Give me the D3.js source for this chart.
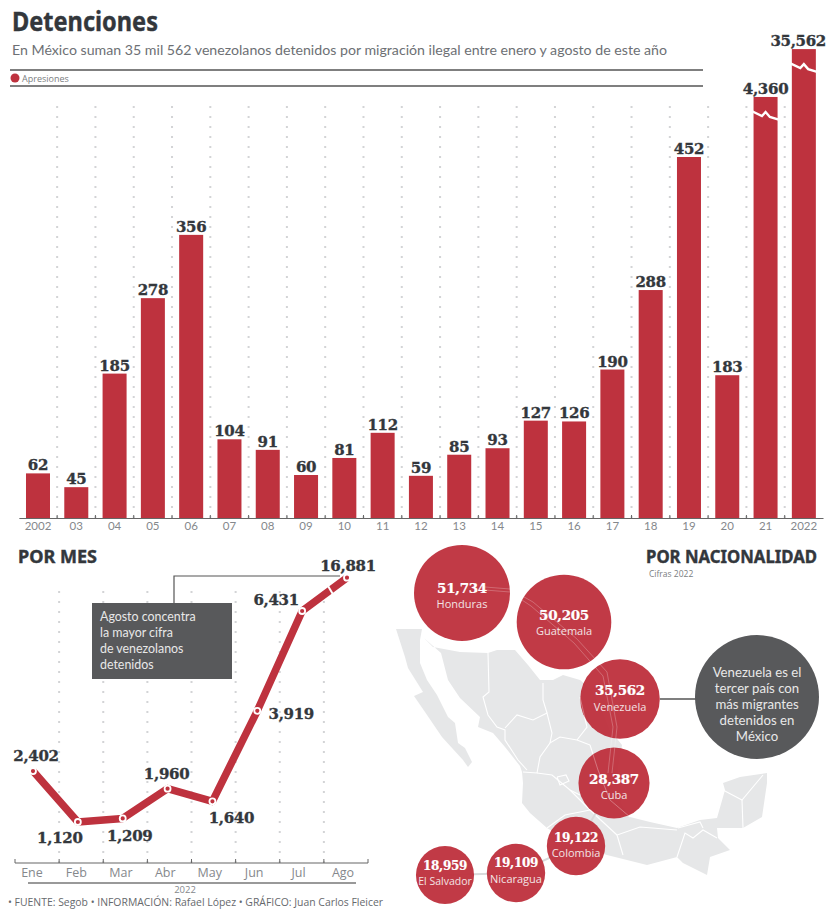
<!DOCTYPE html>
<html lang="es">
<head>
    <meta charset="UTF-8">
    <title>Detenciones</title>
    <script src="https://d3js.org/d3.v7.min.js"></script>
    <style>
        html, body { margin: 0; padding: 0; background: #fff; }
        svg { display: block; }
        text { font-family: "Open Sans", sans-serif; }
        .head { font-family: "Noto Sans", sans-serif; font-weight: 700; fill: #33373c; stroke: #33373c; stroke-width: 0.4px; }
        .num { font-family: "DejaVu Serif", serif; font-weight: 700; fill: #33373c; stroke: #33373c; stroke-width: 0.35px; font-size: 15px; letter-spacing: -0.3px; }
        .tick-label { fill: #85888c; }
    </style>
</head>
<body>
<script>
    // anual
    var years = ["2002","03","04","05","06","07","08","09","10","11","12","13","14","15","16","17","18","19","20","21","2022"];
    var yearValues = [62,45,185,278,356,104,91,60,81,112,59,85,93,127,126,190,288,452,183,4360,35562];
    // las dos ultimas barras van cortadas: altura a la que se dibujan
    var yearDrawn = [62,45,185,278,356,104,91,60,81,112,59,85,93,127,126,190,288,452,183,526,585];

    // por mes
    var months = ["Ene","Feb","Mar","Abr","May","Jun","Jul","Ago"];
    var monthValues = [2402,1120,1209,1960,1640,3919,6431,16881];
    var monthDrawn = [2402,1120,1209,1960,1640,3919,6431,7270];
    var monthLabelOffset = [[3,-10],[-18,21],[7,23],[-1,-10],[19,22],[34,8],[-26,-6],[1,-7]];

    // por nacionalidad
    var countries = ["Honduras","Guatemala","Venezuela","Cuba","Colombia","Nicaragua","El Salvador"];
    var countryValues = [51734,50205,35562,28387,19122,19109,18959];
    var bubbleLayout = [[462,593,0,15],[564,622,-2,13],[620,699,-4,12],[614,783,1,16],[576,846,-4,11],[516,873,-6,10],[445,875,-5,10]];

    // mapa de fondo, trazado a mano
    var mapMain = [[424,638],[433,647],[460,652],[488,653],[497,650],[515,650],[528,665],[540,680],[553,680],[563,675],[580,680],[592,690],[600,705],[610,730],[622,745],[618,770],[622,805],[630,817],[650,822],[677,828],[700,820],[717,818],[725,790],[723,783],[740,777],[767,773],[767,783],[762,817],[743,828],[717,828],[718,838],[730,850],[710,857],[707,875],[683,863],[677,857],[647,865],[607,855],[575,845],[547,828],[530,813],[522,803],[523,783],[522,772],[520,766],[505,747],[493,733],[478,727],[480,717],[460,698],[448,680],[441,653]];
    var mapBaja = [[396,629],[405,657],[408,668],[423,692],[414,696],[425,712],[442,737],[463,760],[468,767],[472,762],[465,748],[458,743],[455,723],[448,717],[437,695],[427,680],[420,663],[420,640],[422,629]];
    var mapBorders = [
        [[488,653],[489,692],[483,697],[488,715],[497,727],[505,730],[505,740],[518,760],[527,770]],
        [[505,728],[517,715],[533,720],[547,713],[552,733],[550,743],[560,737],[577,740],[590,745]],
        [[543,683],[543,700],[547,713]],
        [[550,743],[540,757],[537,773],[523,772]],
        [[580,697],[587,727],[577,740]],
        [[557,777],[566,775],[569,781],[560,785],[557,777]],
        [[537,773],[552,775],[570,790],[580,795]],
        [[723,790],[742,800],[763,775]],
        [[742,800],[743,828]],
        [[677,857],[685,833],[693,838],[703,830],[717,838]],
        [[678,828],[700,822],[703,828]],
        [[623,855],[617,835],[640,827],[677,830]],
        [[590,745],[598,770],[610,800],[630,817]],
        [[570,790],[590,810],[617,835]],
        [[547,828],[565,815],[590,810]]
    ];
    var routes = [
        [[485,587],[510,589],[533,602],[577,639],[607,672],[617,727],[612,773]],
        [[485,590],[510,592],[531,606],[574,643],[603,676],[613,727],[608,773]]
    ];

    var red = "#be323e", dark = "#58595b";
    var svg = d3.select("body").append("svg").attr("width", 826).attr("height", 909);

    // cabecera
    svg.append("text").attr("class","head").attr("x",12).attr("y",31).attr("font-size",27)
        .attr("textLength",146).attr("lengthAdjust","spacingAndGlyphs").text("Detenciones");
    svg.append("text").attr("x",12).attr("y",55).attr("font-size",14).attr("fill","#6d7074")
        .style("font-family","Lato, sans-serif")
        .attr("textLength",655).attr("lengthAdjust","spacingAndGlyphs")
        .text("En México suman 35 mil 562 venezolanos detenidos por migración ilegal entre enero y agosto de este año");
    [70,86].forEach(function(y){
        svg.append("line").attr("x1",10).attr("x2",703).attr("y1",y).attr("y2",y).attr("stroke","#555").attr("stroke-width",1.5);
    });
    svg.append("circle").attr("cx",15).attr("cy",78).attr("r",4.5).attr("fill",red);
    svg.append("text").attr("x",22).attr("y",82).attr("font-size",9).attr("fill","#7a7d80").text("Apresiones");

    // barras
    var x = d3.scaleBand().domain(years).range([18.85,823]).paddingInner(0.373).paddingOuter(0.1865);
    var y = d3.scaleLinear().domain([7,452]).range([518,157]);

    var gridX = years.slice(0,-1).map(function(d){ return x(d) + x.bandwidth() + x.step()*x.paddingInner()/2; });
    svg.append("g").selectAll("line").data(gridX).enter().append("line")
        .attr("x1",function(d){return d;}).attr("x2",function(d){return d;})
        .attr("y1",518).attr("y2",100)
        .attr("stroke","#d3d4d6").attr("stroke-width",2).attr("stroke-dasharray","2 8");

    svg.append("g").selectAll("rect").data(years).enter().append("rect")
        .attr("x",function(d){return x(d);})
        .attr("width",x.bandwidth())
        .attr("y",function(d,i){return y(yearDrawn[i]);})
        .attr("height",function(d,i){return 518-y(yearDrawn[i]);})
        .attr("fill",red);

    // corte de las barras altas
    var breakLine = d3.line();
    years.forEach(function(d,i){
        if (yearDrawn[i] === yearValues[i]) return;
        var bx = x(d), by = y(yearDrawn[i]) + 17, w = x.bandwidth();
        svg.append("path")
            .attr("d",breakLine([[bx-2,by-3],[bx+w*0.35,by+2],[bx+w*0.5,by-2],[bx+w*0.68,by+3],[bx+w+2,by+6]]))
            .attr("fill","none").attr("stroke","#fff").attr("stroke-width",2.4);
    });

    svg.append("g").selectAll("text").data(years).enter().append("text")
        .attr("class","num")
        .attr("text-anchor",function(d){return d==="2022"?"end":"middle";})
        .attr("x",function(d){return d==="2022"?826:x(d)+x.bandwidth()/2;})
        .attr("y",function(d,i){return y(yearDrawn[i])-3;})
        .text(function(d,i){return d3.format(",")(yearValues[i]);});

    var xAxis = svg.append("g").attr("transform","translate(0,518)")
        .call(d3.axisBottom(x).tickSize(0).tickSizeOuter(0).tickPadding(4));
    xAxis.select(".domain").attr("stroke","#666").attr("stroke-width",1.2);
    xAxis.selectAll("text").attr("class","tick-label").attr("font-size",11.5)
        .style("font-family","Lato, sans-serif");
    svg.append("g").selectAll("line").data(gridX).enter().append("line")
        .attr("x1",function(d){return d;}).attr("x2",function(d){return d;})
        .attr("y1",518).attr("y2",515).attr("stroke","#666");

    // por mes
    svg.append("text").attr("class","head").attr("x",18).attr("y",563).attr("font-size",17)
        .attr("textLength",79).attr("lengthAdjust","spacingAndGlyphs").text("POR MES");

    var mx = d3.scalePoint().domain(months).range([33,347]);
    var my = d3.scaleLinear().domain([1120,6431]).range([822,611]);
    var tickScale = d3.scaleBand().domain(months).range([15,368]);
    var mTicks = months.map(function(d){ return tickScale(d); }).concat([368]);

    svg.append("g").selectAll("line").data(mTicks.slice(1,-1)).enter().append("line")
        .attr("x1",function(d){return d;}).attr("x2",function(d){return d;})
        .attr("y1",863).attr("y2",590)
        .attr("stroke","#d3d4d6").attr("stroke-width",2).attr("stroke-dasharray","2 8");

    svg.append("line").attr("x1",15).attr("x2",368).attr("y1",863).attr("y2",863).attr("stroke","#666").attr("stroke-width",1.2);
    svg.append("g").selectAll("line").data(mTicks).enter().append("line")
        .attr("x1",function(d){return d;}).attr("x2",function(d){return d;})
        .attr("y1",863).attr("y2",859).attr("stroke","#666");

    var monthAxis = d3.scalePoint().domain(months).range([32,343]);
    svg.append("g").selectAll("text").data(months).enter().append("text")
        .attr("class","tick-label").attr("text-anchor","middle").attr("font-size",12.5)
        .attr("x",function(d){return monthAxis(d);}).attr("y",877)
        .text(function(d){return d;});

    svg.append("line").attr("x1",28).attr("x2",356).attr("y1",883).attr("y2",883).attr("stroke","#777").attr("stroke-width",1.5);
    svg.append("text").attr("class","tick-label").attr("text-anchor","middle").attr("x",185).attr("y",893).attr("font-size",9.5).text("2022");

    // nota
    svg.append("path").attr("d",d3.line()([[174,603],[174,576],[340,576]])).attr("fill","none").attr("stroke","#555").attr("stroke-width",1.2);
    svg.append("rect").attr("x",92).attr("y",603).attr("width",140).attr("height",76).attr("fill",dark);
    ["Agosto concentra","la mayor cifra","de venezolanos","detenidos"].forEach(function(t,i){
        svg.append("text").attr("x",100).attr("y",621+i*16).attr("font-size",12.4).attr("fill","#e8e8e8")
            .style("font-family","Lato, sans-serif").text(t);
    });

    var monthLine = d3.line().x(function(d){return mx(d);}).y(function(d,i){return my(monthDrawn[i]);});
    svg.append("path").attr("d",monthLine(months)).attr("fill","none").attr("stroke",red)
        .attr("stroke-width",7.5).attr("stroke-linejoin","round");

    // corte de la linea entre Jul y Ago
    var jx = (mx("Jul")*0.37+mx("Ago")*0.63), jy = (my(monthDrawn[6])*0.37+my(monthDrawn[7])*0.63);
    svg.append("line").attr("x1",jx-3).attr("y1",jy-5).attr("x2",jx+3).attr("y2",jy+5).attr("stroke","#fff").attr("stroke-width",2);

    svg.append("g").selectAll("circle").data(months).enter().append("circle")
        .attr("cx",function(d){return mx(d);})
        .attr("cy",function(d,i){return my(monthDrawn[i]);})
        .attr("r",3).attr("fill",red).attr("stroke","#fff").attr("stroke-width",1.8);

    svg.append("g").selectAll("text").data(months).enter().append("text")
        .attr("class","num").attr("text-anchor","middle")
        .attr("x",function(d,i){return mx(d)+monthLabelOffset[i][0];})
        .attr("y",function(d,i){return my(monthDrawn[i])+monthLabelOffset[i][1];})
        .text(function(d,i){return d3.format(",")(monthValues[i]);});

    // por nacionalidad
    svg.append("text").attr("class","head").attr("x",646).attr("y",563).attr("font-size",17)
        .attr("textLength",171).attr("lengthAdjust","spacingAndGlyphs").text("POR NACIONALIDAD");
    svg.append("text").attr("x",649).attr("y",577).attr("font-size",8.5).attr("fill","#7a7d80").text("Cifras 2022");

    var mapG = svg.append("g");
    var poly = d3.line().curve(d3.curveLinearClosed);
    [mapMain,mapBaja].forEach(function(p){
        mapG.append("path").attr("d",poly(p)).attr("fill","#e6e7e8");
    });
    mapG.selectAll("path.border").data(mapBorders).enter().append("path").attr("class","border")
        .attr("d",function(d){return d3.line()(d);})
        .attr("fill","none").attr("stroke","#fff").attr("stroke-width",1.1);

    // enlaces entre burbujas
    svg.append("path").attr("d",d3.line()(bubbleLayout.slice(3).map(function(b){return [b[0],b[1]];})))
        .attr("fill","none").attr("stroke","#d9dadb").attr("stroke-width",2);
    svg.append("line").attr("x1",660).attr("x2",700).attr("y1",699).attr("y2",699).attr("stroke","#555").attr("stroke-width",1.4);

    var r = d3.scaleSqrt().domain([0,51734]).range([0,48]);
    svg.append("g").selectAll("circle").data(countryValues).enter().append("circle")
        .attr("cx",function(d,i){return bubbleLayout[i][0];})
        .attr("cy",function(d,i){return bubbleLayout[i][1];})
        .attr("r",function(d){return r(d);})
        .attr("fill",red).attr("fill-opacity",0.96);

    svg.append("g").selectAll("path").data(routes).enter().append("path")
        .attr("d",function(d){return d3.line()(d);})
        .attr("fill","none").attr("stroke","#fff").attr("stroke-opacity",0.3).attr("stroke-width",0.8);

    // bordes que se transparentan dentro de Venezuela, Cuba y Colombia
    var clip = svg.append("defs").append("clipPath").attr("id","bubbleClip");
    [2,3,4].forEach(function(i){
        clip.append("circle").attr("cx",bubbleLayout[i][0]).attr("cy",bubbleLayout[i][1]).attr("r",r(countryValues[i]));
    });
    svg.append("g").attr("clip-path","url(#bubbleClip)").selectAll("path").data(mapBorders).enter().append("path")
        .attr("d",function(d){return d3.line()(d);})
        .attr("fill","none").attr("stroke","#fff").attr("stroke-opacity",0.35).attr("stroke-width",0.9);

    svg.append("g").selectAll("text").data(countryValues).enter().append("text")
        .attr("class","num").attr("text-anchor","middle")
        .attr("x",function(d,i){return bubbleLayout[i][0];})
        .attr("y",function(d,i){return bubbleLayout[i][1]+bubbleLayout[i][2];})
        .style("fill","#fff").style("stroke","#fff").style("stroke-width","0.2px")
        .style("font-size",function(d,i){return i<4?"13.5px":"12px";})
        .text(function(d){return d3.format(",")(d);});
    svg.append("g").selectAll("text").data(countries).enter().append("text")
        .attr("text-anchor","middle").attr("fill","#f3e3e4")
        .attr("font-size",function(d){return d==="El Salvador"?10.5:11;})
        .attr("x",function(d,i){return bubbleLayout[i][0];})
        .attr("y",function(d,i){return bubbleLayout[i][1]+bubbleLayout[i][3];})
        .text(function(d){return d;});

    // circulo gris
    svg.append("circle").attr("cx",757).attr("cy",697).attr("r",62).attr("fill",dark);
    ["Venezuela es el","tercer país con","más migrantes","detenidos en","México"].forEach(function(t,i){
        svg.append("text").attr("x",757).attr("y",677+i*16).attr("text-anchor","middle")
            .attr("font-size",13.2).attr("fill","#e8e8e8")
            .style("font-family","Lato, sans-serif").text(t);
    });

    // pie
    svg.append("text").attr("x",8).attr("y",906).attr("font-size",10).attr("fill","#66696d")
        .attr("textLength",375).attr("lengthAdjust","spacingAndGlyphs")
        .text("• FUENTE: Segob • INFORMACIÓN: Rafael López • GRÁFICO: Juan Carlos Fleicer");
</script>
</body>
</html>
